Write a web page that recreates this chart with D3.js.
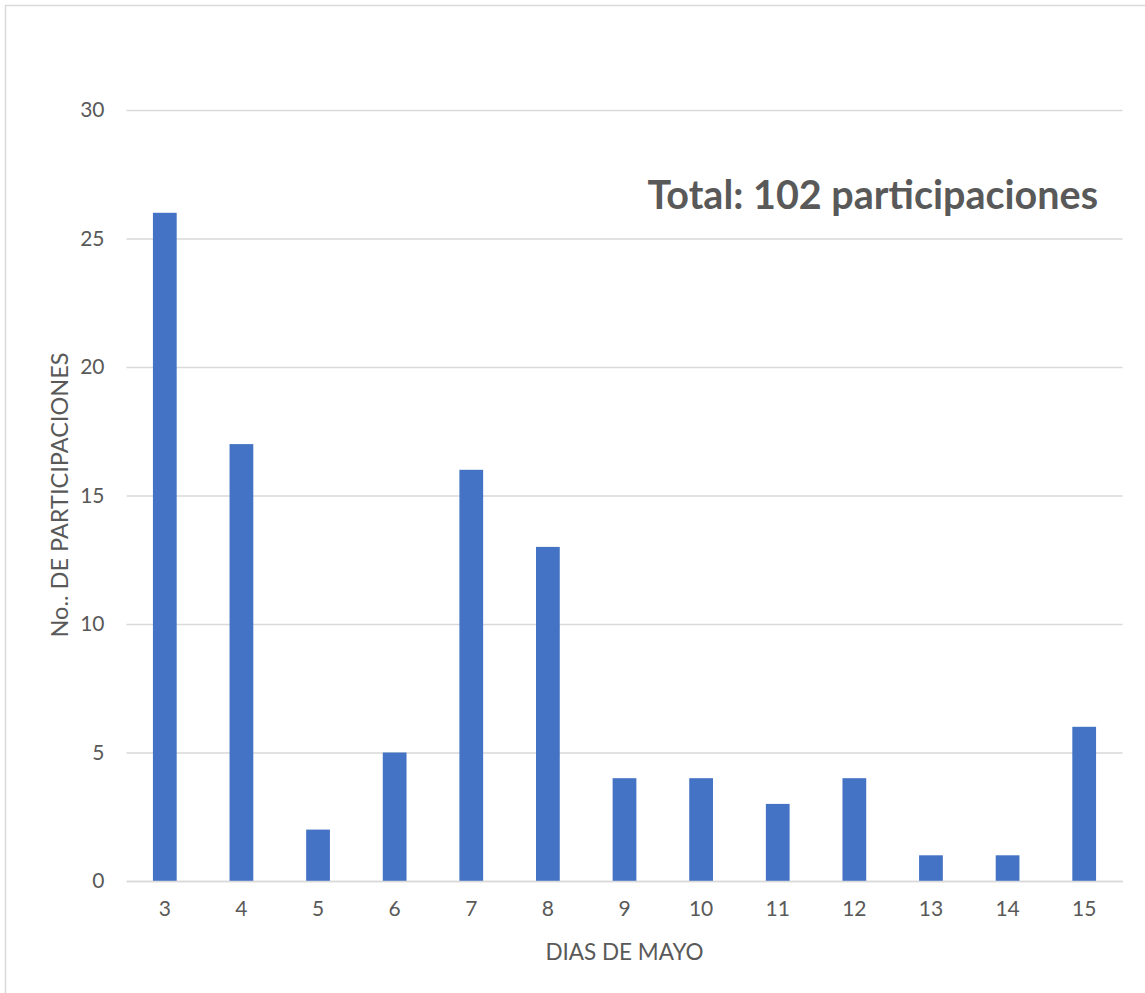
<!DOCTYPE html>
<html><head><meta charset="utf-8">
<script src="https://cdn.jsdelivr.net/npm/d3@7"></script>
<style>body{margin:0;background:#fff;}svg{display:block;font-family:Lato,"Open Sans",sans-serif;}</style>
</head><body>
<svg id="c" width="1145" height="993"></svg>
<script>
const categories = ["3","4","5","6","7","8","9","10","11","12","13","14","15"];
const values = [26,17,2,5,16,13,4,4,3,4,1,1,6];
const yTicks = [0,5,10,15,20,25,30];
const title = "Total: 102 participaciones";
const xTitle = "DIAS DE MAYO";
const yTitle = "No.. DE PARTICIPACIONES";

const FONT = "Lato, 'Open Sans', sans-serif";
const svg = d3.select("#c");
const m = {l:126.5, r:1122.5, t:110, b:881};
svg.append("rect").attr("x",5.5).attr("y",5.5).attr("width",1150).attr("height",1000)
  .attr("fill","#fff").attr("stroke","#d9d9d9").attr("stroke-width",1.5);

const x = d3.scaleBand().domain(categories).range([m.l,m.r]).paddingInner(0.69).paddingOuter(0.345);
const y = d3.scaleLinear().domain([0,30]).range([m.b,m.t]);

const gy = svg.append("g").attr("transform",`translate(${m.l},0)`)
  .call(d3.axisLeft(y).tickValues(yTicks).tickSize(-(m.r-m.l)).tickPadding(22));
gy.attr("font-family",FONT).attr("font-size",21);
gy.select(".domain").remove();
gy.selectAll(".tick line").attr("stroke","#d9d9d9").attr("stroke-width",1.3);
gy.selectAll(".tick text").attr("fill","#595959").attr("x",-22);

svg.selectAll("rect.bar").data(values).join("rect").attr("class","bar")
  .attr("x",(d,i)=>x(categories[i])).attr("width",x.bandwidth())
  .attr("y",d=>y(d)).attr("height",d=>y(0)-y(d)).attr("fill","#4472c4");

const gx = svg.append("g").attr("transform",`translate(0,${m.b})`)
  .call(d3.axisBottom(x).tickSize(0).tickPadding(20));
gx.attr("font-family",FONT).attr("font-size",21);
gx.select(".domain").attr("stroke","#d9d9d9").attr("stroke-width",1.3);
gx.selectAll(".tick text").attr("fill","#595959");

svg.append("text").attr("x",(m.l+m.r)/2).attr("y",960).attr("text-anchor","middle")
  .attr("fill","#595959").attr("font-size",22.5).text(xTitle);
svg.append("text").attr("transform","translate(68,495) rotate(-90)").attr("text-anchor","middle")
  .attr("fill","#595959").attr("font-size",23.5).text(yTitle);
svg.append("text").attr("x",1098).attr("y",209).attr("text-anchor","end")
  .attr("fill","#595959").attr("font-size",39.5).attr("font-weight","bold").text(title);
</script>
</body></html>
